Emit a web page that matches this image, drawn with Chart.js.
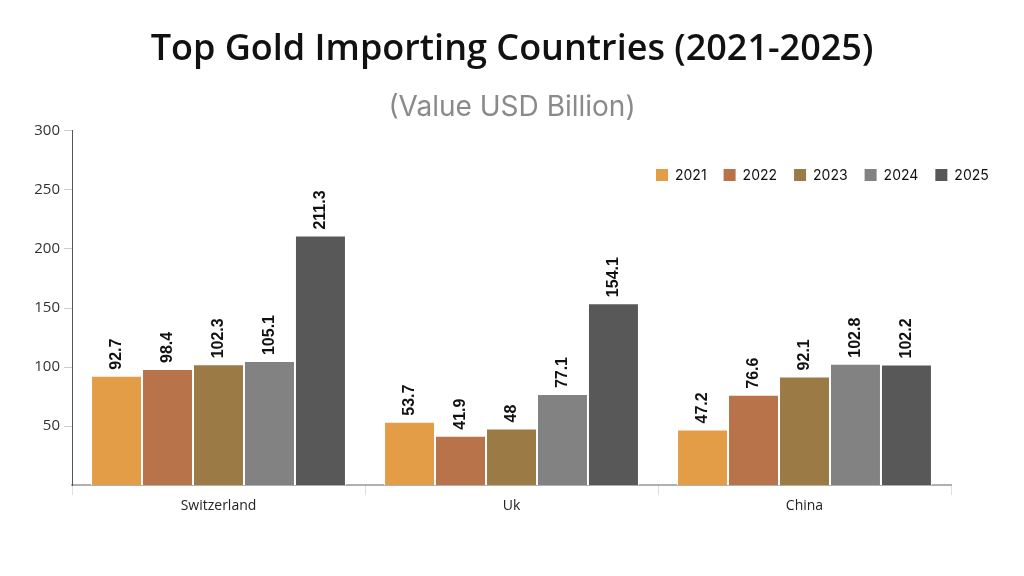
<!DOCTYPE html>
<html>
<head>
<meta charset="utf-8">
<script src="https://cdn.jsdelivr.net/npm/chart.js@4"></script>
<style>
  html, body { margin: 0; padding: 0; background: #fff; }
  #wrap { width: 1024px; height: 576px; }
</style>
</head>
<body>
<div id="wrap"><canvas id="chart" width="1024" height="576"></canvas></div>
<script>
// --- data ---
const countries = ["Switzerland", "Uk", "China"];
const years = ["2021", "2022", "2023", "2024", "2025"];
const v2021 = [92.7, 53.7, 47.2];
const v2022 = [98.4, 41.9, 76.6];
const v2023 = [102.3, 48, 92.1];
const v2024 = [105.1, 77.1, 102.8];
const v2025 = [211.3, 154.1, 102.2];
const yTicks = [50, 100, 150, 200, 250, 300];

const seriesValues = [v2021, v2022, v2023, v2024, v2025];
const colors = ["#E39D46", "#B8734A", "#9C7A45", "#828282", "#585858"];

// 막대 위에 세로로 값 표시
const barLabels = {
  id: "barLabels",
  afterDatasetsDraw(chart) {
    const ctx = chart.ctx;
    ctx.save();
    ctx.font = "bold 16px 'Liberation Sans', Arial, sans-serif";
    ctx.fillStyle = "#111";
    ctx.textAlign = "left";
    ctx.textBaseline = "middle";
    chart.data.datasets.forEach((ds, i) => {
      chart.getDatasetMeta(i).data.forEach((bar, j) => {
        ctx.save();
        ctx.translate(bar.x, bar.y - 6);
        ctx.rotate(-Math.PI / 2);
        ctx.fillText(String(ds.data[j]), 0, 0);
        ctx.restore();
      });
    });
    ctx.restore();
  },
};

// 범례: 차트 영역 안쪽 오른쪽 위에 가로로
const inlineLegend = {
  id: "inlineLegend",
  afterDraw(chart) {
    const ctx = chart.ctx;
    ctx.save();
    ctx.font = "14px Inter, sans-serif";
    ctx.textBaseline = "middle";
    ctx.textAlign = "left";
    let x = 656;
    const y = 175;
    chart.data.datasets.forEach((ds) => {
      ctx.fillStyle = ds.backgroundColor;
      ctx.fillRect(x, y - 6, 12, 12);
      ctx.fillStyle = "#111";
      ctx.fillText(ds.label, x + 19, y + 1);
      x += 12 + 7 + ctx.measureText(ds.label).width + 17;
    });
    ctx.restore();
  },
};

new Chart(document.getElementById("chart"), {
  type: "bar",
  data: {
    labels: countries,
    datasets: years.map((y, i) => ({
      label: y,
      data: seriesValues[i],
      backgroundColor: colors[i],
      borderColor: "#ffffff",
      borderWidth: 1,
      borderSkipped: "bottom",
      categoryPercentage: 0.87,
      barPercentage: 1.0,
    })),
  },
  options: {
    responsive: false,
    animation: false,
    layout: { padding: { left: 0, right: 0, top: 0, bottom: 60 } },
    plugins: {
      title: {
        display: true,
        text: "Top Gold Importing Countries (2021-2025)",
        color: "#111",
        font: { family: "'Open Sans', sans-serif", size: 36, weight: "600" },
        padding: { top: 28, bottom: 20 },
      },
      subtitle: {
        display: true,
        text: "(Value USD Billion)",
        color: "#8a8a8a",
        font: { family: "Inter, sans-serif", size: 28, weight: "normal" },
        padding: { top: 0, bottom: 6 },
      },
      legend: { display: false },
      tooltip: { enabled: false },
    },
    scales: {
      x: {
        grid: {
          display: true,
          drawOnChartArea: false,
          tickLength: 10,
          color: "#e0e0e0",
        },
        border: { display: true, color: "#b0b0b0", width: 2 },
        ticks: {
          color: "#222",
          padding: 2,
          font: { family: "'Open Sans', sans-serif", size: 14 },
        },
      },
      y: {
        min: 0,
        max: 300,
        afterBuildTicks(scale) {
          scale.ticks = yTicks.map((v) => ({ value: v }));
        },
        afterFit(scale) {
          scale.width = 72;
        },
        grid: {
          display: true,
          drawOnChartArea: false,
          tickLength: 8,
          color: "#cccccc",
        },
        border: { display: true, color: "#555", width: 1 },
        ticks: {
          color: "#333",
          padding: 4,
          font: { family: "'Open Sans', sans-serif", size: 15 },
        },
      },
      // 오른쪽 여백용 빈 축 (제목을 캔버스 가운데에 두기 위해)
      yRight: {
        position: "right",
        display: true,
        afterFit(scale) {
          scale.width = 73;
        },
        grid: { display: false },
        border: { display: false },
        ticks: { display: false },
      },
    },
  },
  plugins: [barLabels, inlineLegend],
});
</script>
</body>
</html>
